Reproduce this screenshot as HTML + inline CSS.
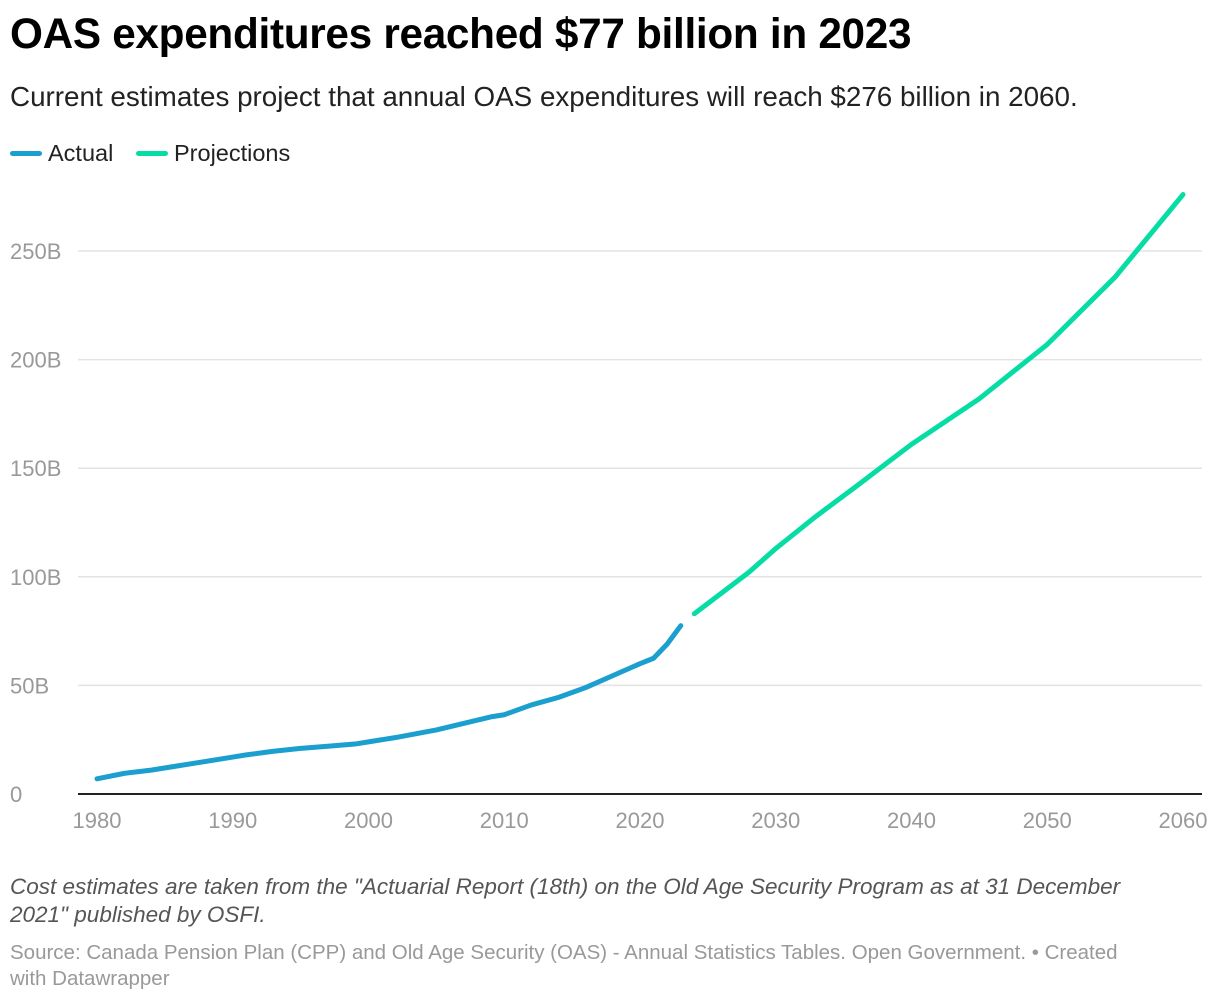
<!DOCTYPE html>
<html><head><meta charset="utf-8">
<style>
body{margin:0;width:1220px;height:1002px;background:#fff;font-family:"Liberation Sans",sans-serif;overflow:hidden}
.t{position:absolute;left:10px;top:10px;font-size:42.3px;font-weight:bold;color:#000;letter-spacing:-0.3px}
.s{position:absolute;left:10px;top:81px;font-size:27.8px;color:#222}
.lg{position:absolute;top:140px;font-size:23.5px;color:#222;display:flex;align-items:center}
.lg i{display:inline-block;width:32px;height:5px;border-radius:3px;margin-right:6px}
.n{position:absolute;left:10px;top:873px;font-size:22.5px;font-style:italic;color:#555;line-height:28px;width:1160px}
.src{position:absolute;left:10px;top:940px;font-size:20.5px;color:#999;line-height:26px;width:1128px}
</style></head><body>
<div class="t">OAS expenditures reached $77 billion in 2023</div>
<div class="s">Current estimates project that annual OAS expenditures will reach $276 billion in 2060.</div>
<div class="lg" style="left:10px"><i style="background:#1a9fcf"></i>Actual</div>
<div class="lg" style="left:136px"><i style="background:#06dda5"></i>Projections</div>
<svg id="c" width="1220" height="1002" style="position:absolute;left:0;top:0"></svg>
<div class="n">Cost estimates are taken from the "Actuarial Report (18th) on the Old Age Security Program as at 31 December 2021" published by OSFI.</div>
<div class="src">Source: Canada Pension Plan (CPP) and Old Age Security (OAS) - Annual Statistics Tables. Open Government. • Created with Datawrapper</div>
<script>
const actualYears=[1980,1982,1984,1986,1988,1990,1991,1993,1995,1997,1999,2000,2002,2005,2007,2009,2010,2012,2014,2016,2018,2020,2021,2022,2023];
const actualValues=[7,9.5,11,13,15,17,18,19.7,21,22,23,24,26,29.5,32.5,35.5,36.5,41,44.5,49,54.5,60,62.5,69,77.5];
const projYears=[2024,2028,2030,2033,2036,2040,2045,2050,2055,2060];
const projValues=[83,102,113,128,142,161,182,207,238,276];
const yTicks=[0,50,100,150,200,250];
const yTickLabels=["0","50B","100B","150B","200B","250B"];
const xTicks=[1980,1990,2000,2010,2020,2030,2040,2050,2060];
const NS="http://www.w3.org/2000/svg";
const svg=document.getElementById('c');
const x=v=>97+(v-1980)*(1183-97)/80;
const y=v=>794-v*(794-251)/250;
function mk(t,a){const e=document.createElementNS(NS,t);for(const k in a)e.setAttribute(k,a[k]);svg.appendChild(e);return e;}
yTicks.forEach((v,i)=>{
  if(v>0){const g=mk('line',{x1:78,x2:1202,y1:y(v),y2:y(v),stroke:'#e3e3e3','stroke-width':1.5});
  
  }
  const t=mk('text',{x:10,y:y(v)+8,'font-size':22,fill:'#999','font-family':'Liberation Sans'});
  t.textContent=yTickLabels[i];
  
  
});
xTicks.forEach(v=>{
  const t=mk('text',{x:x(v),y:828,'font-size':22,fill:'#999','text-anchor':'middle','font-family':'Liberation Sans'});
  t.textContent=v;
  
  
});
const base=mk('line',{x1:78,x2:1202,y1:794,y2:794,stroke:'#222','stroke-width':2});


function line(xs,vs,col,name){
  const p=mk('path',{d:xs.map((v,i)=>(i?'L':'M')+x(v)+','+y(vs[i])).join(''),fill:'none',stroke:col,'stroke-width':5,'stroke-linecap':'round','stroke-linejoin':'round'});
  
  
}
line(actualYears,actualValues,'#1a9fcf','actual-line');
line(projYears,projValues,'#06dda5','projections-line');
</script>
</body></html>
